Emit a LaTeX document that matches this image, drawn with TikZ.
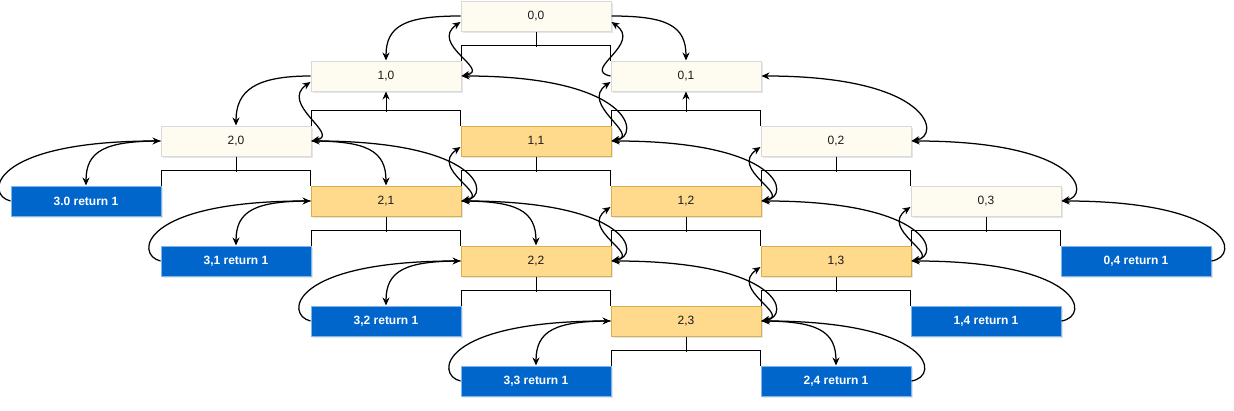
\documentclass[tikz,border=0pt]{standalone}
\usepackage{fontspec}
\setmainfont{Liberation Sans}
\usepackage{xcolor}
\usetikzlibrary{arrows.meta, shadows}

\definecolor{fundocreme}{HTML}{FEFCF0}
\definecolor{bordacreme}{HTML}{D9D9D9}
\definecolor{fundolaranja}{HTML}{FFD98C}
\definecolor{bordalaranja}{HTML}{D6B04F}
\definecolor{fundoazul}{HTML}{0066CC}
\definecolor{bordaazul}{HTML}{7EB6F0}
\definecolor{texto}{HTML}{1A1A1A}

\begin{document}
\begin{tikzpicture}[
		    x=1pt, y=-1pt, line width=1pt,
		    every node/.style={draw, minimum width=150pt, minimum height=30pt, inner sep=0pt,
		        font=\fontsize{12}{14}\selectfont,
		        drop shadow={shadow xshift=1.5pt, shadow yshift=-2pt, opacity=0.2, fill=gray}},
		    >={Stealth[length=8pt, width=7pt]}
		]
		\tikzset{
		    creme/.style={fill=fundocreme, draw=bordacreme, text=texto},
		    laranja/.style={fill=fundolaranja, draw=bordalaranja, text=texto},
		    azul/.style={fill=fundoazul, draw=bordaazul, text=white, font=\fontsize{12}{14}\selectfont\bfseries},
		    curva/.style={line width=1.25pt}
		}
		\useasboundingbox (0,0) rectangle (1234,410);

		\node[creme] (n00) at (536,16) {0,0};
		\node[creme] (n10) at (386,76) {1,0};
		\node[creme] (n01) at (686,76) {0,1};
		\node[creme] (n20) at (236,141) {2,0};
		\node[laranja] (n11) at (536,141) {1,1};
		\node[creme] (n02) at (836,141) {0,2};
		\node[azul] (r30) at (86,201) {3.0 return 1};
		\node[laranja] (n21) at (386,201) {2,1};
		\node[laranja] (n12) at (686,201) {1,2};
		\node[creme] (n03) at (986,201) {0,3};
		\node[azul] (r31) at (236,261) {3,1 return 1};
		\node[laranja] (n22) at (536,261) {2,2};
		\node[laranja] (n13) at (836,261) {1,3};
		\node[azul] (r04) at (1136,261) {0,4 return 1};
		\node[azul] (r32) at (386,321) {3,2 return 1};
		\node[laranja] (n23) at (686,321) {2,3};
		\node[azul] (r14) at (986,321) {1,4 return 1};
		\node[azul] (r33) at (536,381) {3,3 return 1};
		\node[azul] (r24) at (836,381) {2,4 return 1};

		% arvore
		\draw (n10.north east) -- ++(0,-15) -| (n01.north west) (n00.south) -- ++(0,15);
		\draw (n20.north east) -- ++(0,-15) -| (n11.north west);
		\draw[<-] (n10.south) -- ++(0,20);
		\draw (n11.north east) -- ++(0,-15) -| (n02.north west);
		\draw[<-] (n01.south) -- ++(0,20);
		\draw (r30.north east) -- ++(0,-15) -| (n21.north west) (n20.south) -- ++(0,15);
		\draw (n21.north east) -- ++(0,-15) -| (n12.north west) (n11.south) -- ++(0,15);
		\draw (n12.north east) -- ++(0,-15) -| (n03.north west) (n02.south) -- ++(0,15);
		\draw (r31.north east) -- ++(0,-15) -| (n22.north west) (n21.south) -- ++(0,15);
		\draw (n22.north east) -- ++(0,-15) -| (n13.north west) (n12.south) -- ++(0,15);
		\draw (n13.north east) -- ++(0,-15) -| (r04.north west) (n03.south) -- ++(0,15);
		\draw (r32.north east) -- ++(0,-15) -| (n23.north west) (n22.south) -- ++(0,15);
		\draw (n23.north east) -- ++(0,-15) -| (r14.north west) (n13.south) -- ++(0,15);
		\draw (r33.north east) -- ++(0,-15) -| (r24.north west) (n23.south) -- ++(0,15);

		% chamadas
		\draw[curva, ->] (n00.west) .. controls +(-55,0) and +(0,-35) .. (n10.north);
		\draw[curva, ->] (n00.east) .. controls +(55,0) and +(0,-35) .. (n01.north);
		\draw[curva, ->] (n10.west) .. controls +(-55,0) and +(0,-35) .. (n20.north);
		\draw[curva, ->] (n20.west) .. controls +(-55,0) and +(0,-35) .. (r30.north);
		\draw[curva, ->] (n20.east) .. controls +(55,0) and +(0,-35) .. (n21.north);
		\draw[curva, ->] (n21.west) .. controls +(-55,0) and +(0,-35) .. (r31.north);
		\draw[curva, ->] (n21.east) .. controls +(55,0) and +(0,-35) .. (n22.north);
		\draw[curva, ->] (n22.west) .. controls +(-55,0) and +(0,-35) .. (r32.north);
		\draw[curva, ->] (n23.west) .. controls +(-55,0) and +(0,-35) .. (r33.north);
		\draw[curva, ->] (n23.east) .. controls +(55,0) and +(0,-35) .. (r24.north);

		% retornos
		\draw[curva, ->] (n01.west) .. controls +(-30,-6) and +(32,22) .. ([yshift=-6pt]n00.east);
		\draw[curva, <->] (n10.east) .. controls +(30,-6) and +(-32,22) .. ([yshift=-6pt]n00.west);
		\draw[curva, <->] (n20.east) .. controls +(30,-6) and +(-32,22) .. ([yshift=-6pt]n10.west);
		\draw[curva, <->] (n11.east) .. controls +(30,-6) and +(-32,22) .. ([yshift=-6pt]n01.west);
		\draw[curva, <->] (n21.east) .. controls +(30,-6) and +(-32,22) .. ([yshift=-6pt]n11.west);
		\draw[curva, <->] (n12.east) .. controls +(30,-6) and +(-32,22) .. ([yshift=-6pt]n02.west);
		\draw[curva, <->] (n22.east) .. controls +(30,-6) and +(-32,22) .. ([yshift=-6pt]n12.west);
		\draw[curva, <->] (n13.east) .. controls +(30,-6) and +(-32,22) .. ([yshift=-6pt]n03.west);
		\draw[curva, <->] (n23.east) .. controls +(30,-6) and +(-32,22) .. ([yshift=-6pt]n13.west);

		\draw[curva, <->] (n10.east) .. controls +(170,0) and +(30,-5) .. (n11.east);
		\draw[curva, <->] (n01.east) .. controls +(170,0) and +(30,-5) .. (n02.east);
		\draw[curva, <->] (n20.east) .. controls +(170,0) and +(30,-5) .. (n21.east);
		\draw[curva, <->] (n11.east) .. controls +(170,0) and +(30,-5) .. (n12.east);
		\draw[curva, <->] (n02.east) .. controls +(170,0) and +(30,-5) .. (n03.east);
		\draw[curva, <->] (n21.east) .. controls +(170,0) and +(30,-5) .. (n22.east);
		\draw[curva, <->] (n12.east) .. controls +(170,0) and +(30,-5) .. (n13.east);
		\draw[curva, <->] (n22.east) .. controls +(170,0) and +(30,-5) .. (n23.east);
		\draw[curva, <-] (n03.east) .. controls +(170,0) and +(30,-5) .. (r04.east);
		\draw[curva, <-] (n13.east) .. controls +(170,0) and +(30,-5) .. (r14.east);
		\draw[curva, <-] (n23.east) .. controls +(170,0) and +(30,-5) .. (r24.east);

		\draw[curva, ->] (r30.west) .. controls +(-26,-6) and +(-171,0) .. (n20.west); % caso base
		\draw[curva, ->] (r31.west) .. controls +(-26,-6) and +(-171,0) .. (n21.west);
		\draw[curva, ->] (r32.west) .. controls +(-26,-6) and +(-171,0) .. (n22.west);
		\draw[curva, ->] (r33.west) .. controls +(-26,-6) and +(-171,0) .. (n23.west);
		\end{tikzpicture}
\end{document}
